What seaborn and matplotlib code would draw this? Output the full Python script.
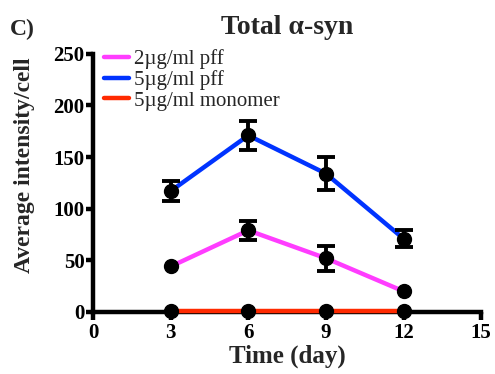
import numpy as np
import pandas as pd
import seaborn as sns
import matplotlib.pyplot as plt

# values
days = [3, 6, 9, 12]
groups = ['2µg/ml pff', '5µg/ml pff', '5µg/ml monomer']
pff2_mean = [44, 79, 52, 20]
pff2_err = [0, 9, 12, 0]
pff5_mean = [117, 171, 134, 71]
pff5_err = [10, 14, 16, 8]
mono_mean = [0.5, 0.5, 0.5, 0.5]
mono_err = [0, 0, 0, 0]
colors = ['#ff3dff', '#0033ff', '#ff2a00']

df = pd.DataFrame({
    'Day': days * 3,
    'Intensity': pff2_mean + pff5_mean + mono_mean,
    'Error': pff2_err + pff5_err + mono_err,
    'Group': [g for g in groups for _ in days],
})

sns.set_style('ticks', {'axes.edgecolor': 'black', 'xtick.color': 'black', 'ytick.color': 'black'})
plt.rcParams['font.family'] = ['Liberation Serif', 'DejaVu Serif']
plt.rcParams['font.weight'] = 'bold'

fig = plt.figure(figsize=(4.95, 3.74), dpi=100)
ax = fig.add_axes([0.188, 0.166, 0.784, 0.69])

sns.lineplot(data=df, x='Day', y='Intensity', hue='Group', hue_order=groups,
             palette=colors, linewidth=3.2, ax=ax, legend=False, zorder=3, clip_on=False)

for g in groups:
    sub = df[(df['Group'] == g)]
    ax.plot(sub['Day'], sub['Intensity'], 'o', color='black', markersize=10,
            zorder=4, clip_on=False)
    sub = sub[sub['Error'] > 0]
    ax.errorbar(sub['Day'], sub['Intensity'], yerr=sub['Error'], fmt='none', ecolor='black',
                elinewidth=2.8, capsize=6.5, capthick=2.8, zorder=4, clip_on=False)

ax.set_xlim(0, 15)
ax.set_ylim(0, 250)
ax.set_xticks([0, 3, 6, 9, 12, 15])
ax.set_yticks([0, 50, 100, 150, 200, 250])
sns.despine(ax=ax)
for s in ['left', 'bottom']:
    ax.spines[s].set_linewidth(3.2)
ax.tick_params(width=3.2, length=5, labelsize=15, pad=1, colors='black')
ax.tick_params(axis='x', length=6, pad=2)
for lab in ax.get_xticklabels() + ax.get_yticklabels():
    lab.set_fontweight('bold')

ax.set_xlabel('Time (day)', fontsize=18, fontweight='bold', labelpad=1)
ax.set_ylabel('Average intensity/cell', fontsize=17, fontweight='bold')
ax.yaxis.set_label_coords(-0.15, 0.57)
ax.set_title('Total α-syn', fontsize=20, fontweight='bold', pad=14)
fig.text(0.02, 0.905, 'C)', fontsize=17, fontweight='bold')

handles = [plt.Line2D([], [], color=c, linewidth=3.2) for c in colors]
leg = ax.legend(handles, groups, loc='upper left', bbox_to_anchor=(-0.01, 1.075), frameon=False,
                handlelength=1.2, handletextpad=0.25, labelspacing=0.05, borderaxespad=0.3,
                prop={'size': 15, 'weight': 'normal'})

fig.savefig('out.png', dpi=100)
